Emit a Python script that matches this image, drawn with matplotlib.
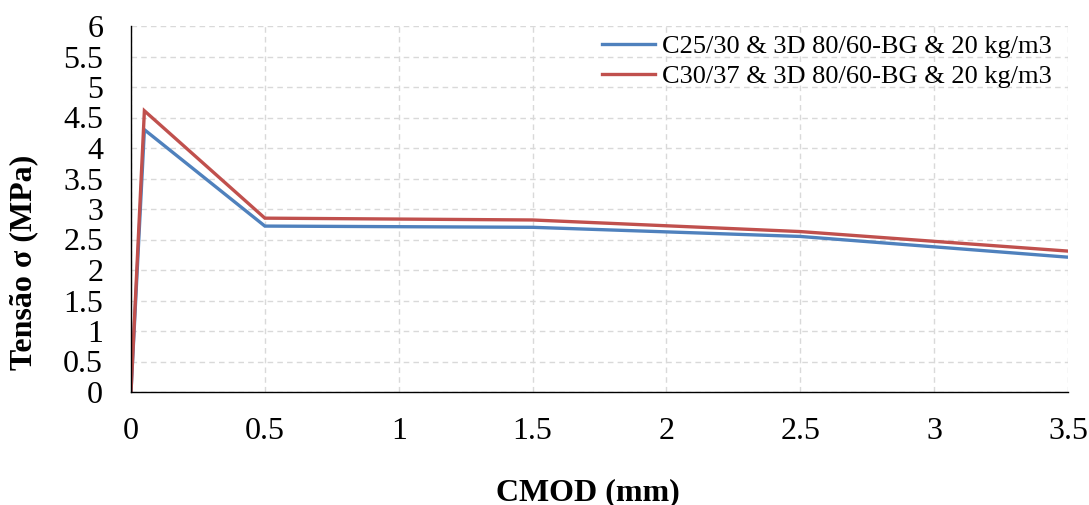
import matplotlib
matplotlib.use("Agg")
import matplotlib.pyplot as plt

# CMOD (mm) and stress (MPa) for the two concrete mixes
cmod = [0.0, 0.05, 0.5, 1.5, 2.5, 3.5]
sigma_c25 = [0.0, 4.30, 2.72, 2.70, 2.55, 2.21]
sigma_c30 = [0.0, 4.61, 2.85, 2.82, 2.63, 2.31]
labels = ["C25/30 & 3D 80/60-BG & 20 kg/m3", "C30/37 & 3D 80/60-BG & 20 kg/m3"]
colors = ["#4F81BD", "#C0504D"]

x_ticks = [0, 0.5, 1, 1.5, 2, 2.5, 3, 3.5]
x_tick_labels = ["0", "0.5", "1", "1.5", "2", "2.5", "3", "3.5"]
y_ticks = [0, 0.5, 1, 1.5, 2, 2.5, 3, 3.5, 4, 4.5, 5, 5.5, 6]
y_tick_labels = ["0", "0.5", "1", "1.5", "2", "2.5", "3", "3.5", "4", "4.5", "5", "5.5", "6"]

plt.rcParams["font.family"] = ["Liberation Serif", "DejaVu Serif"]

fig = plt.figure(figsize=(10.89, 5.05), dpi=100)
ax = fig.add_axes([131 / 1089, 1 - 392 / 505, (1068 - 131) / 1089, (392 - 26) / 505])

for ys, lab, col in zip([sigma_c25, sigma_c30], labels, colors):
    ax.plot(cmod, ys, color=col, lw=2.4, label=lab, solid_joinstyle="miter")

ax.set_xlim(0, 3.5)
ax.set_ylim(0, 6)
ax.set_xticks(x_ticks)
ax.set_xticklabels(x_tick_labels)
ax.set_yticks(y_ticks)
ax.set_yticklabels(y_tick_labels)
ax.tick_params(axis="both", length=0, labelsize=23)
ax.tick_params(axis="x", pad=18)
ax.tick_params(axis="y", pad=20)

ax.grid(True, color="#D9D9D9", linestyle=(0, (4, 3)), linewidth=1.0)
ax.set_axisbelow(True)
for s in ["top", "right"]:
    ax.spines[s].set_visible(False)
for s in ["left", "bottom"]:
    ax.spines[s].set_color("black")
    ax.spines[s].set_linewidth(1.0)

ax.set_xlabel("CMOD (mm)", fontsize=23, fontweight="bold")
ax.set_ylabel("Tensão σ (MPa)", fontsize=23, fontweight="bold")
ax.xaxis.set_label_coords(0.488, -0.235)
ax.yaxis.set_label_coords(-0.099, 0.355)

ax.legend(loc="upper right", frameon=False, fontsize=19, handlelength=2.0,
          handletextpad=0.25, borderaxespad=0.0, labelspacing=0.25,
          bbox_to_anchor=(1062 / 1089, 1 - 24 / 505),
          bbox_transform=fig.transFigure)

fig.savefig("out.png", dpi=100)
